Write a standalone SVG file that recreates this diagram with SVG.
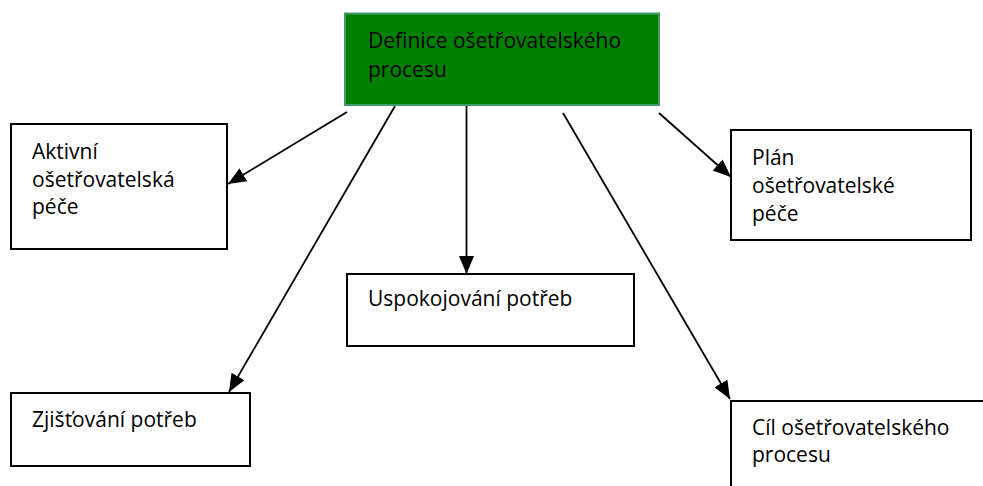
<svg xmlns="http://www.w3.org/2000/svg" width="983" height="486" viewBox="0 0 983 486">
  <style>
    .box { fill: #ffffff; stroke: #000000; stroke-width: 2; }
    .root { fill: #008000; stroke: #3f9a6e; stroke-width: 2; }
    .label { font-family: "Open Sans", "Noto Sans", "Liberation Sans", sans-serif; font-size: 21px; fill: #000000; }
    .edge { stroke: #000000; stroke-width: 1.8; fill: none; marker-end: url(#arrow); }
  </style>
  <defs>
    <marker id="arrow" markerUnits="userSpaceOnUse" markerWidth="19" markerHeight="15" viewBox="0 0 19 15" refX="18" refY="7.5" orient="auto">
      <path d="M0,0 L18,7.5 L0,15 Z" fill="#000000"/>
    </marker>
  </defs>

  <rect width="983" height="486" fill="#ffffff"/>

  <!-- connectors from the central concept -->
  <g id="connectors">
    <line class="edge" x1="347" y1="112" x2="228" y2="184"/>
    <line class="edge" x1="395" y1="106" x2="229" y2="392"/>
    <line class="edge" x1="466.5" y1="106" x2="466.5" y2="274"/>
    <line class="edge" x1="563" y1="113" x2="730" y2="399"/>
    <line class="edge" x1="659" y1="113" x2="731" y2="177"/>
  </g>

  <g id="definice">
    <rect class="root" x="345" y="13.5" width="314" height="91.5"/>
    <text class="label" x="368" y="48">Definice ošetřovatelského</text>
    <text class="label" x="368" y="77">procesu</text>
  </g>

  <g id="aktivni">
    <rect class="box" x="11" y="124" width="216" height="125"/>
    <text class="label" x="32" y="159">Aktivní</text>
    <text class="label" x="32" y="187">ošetřovatelská</text>
    <text class="label" x="32" y="214">péče</text>
  </g>

  <g id="plan">
    <rect class="box" x="731" y="130" width="240" height="110"/>
    <text class="label" x="752" y="165">Plán</text>
    <text class="label" x="752" y="193">ošetřovatelské</text>
    <text class="label" x="752" y="221">péče</text>
  </g>

  <g id="uspokojovani">
    <rect class="box" x="347" y="274" width="287" height="72"/>
    <text class="label" x="368" y="306">Uspokojování potřeb</text>
  </g>

  <g id="zjistovani">
    <rect class="box" x="11" y="393" width="239" height="73"/>
    <text class="label" x="32" y="427">Zjišťování potřeb</text>
  </g>

  <g id="cil">
    <rect class="box" x="731" y="401" width="300" height="120"/>
    <text class="label" x="752" y="435">Cíl ošetřovatelského</text>
    <text class="label" x="752" y="462">procesu</text>
  </g>
</svg>
